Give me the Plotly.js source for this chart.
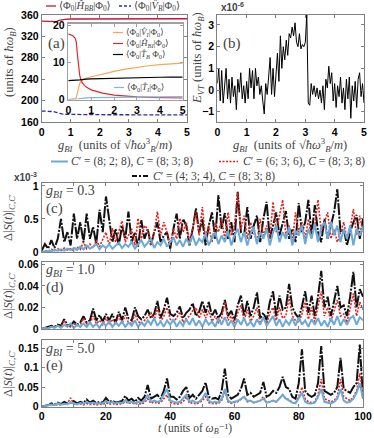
<!DOCTYPE html>
<html><head><meta charset="utf-8">
<script src="https://cdn.plot.ly/plotly-3.0.1.min.js"></script>
<style>html,body{margin:0;padding:0;background:#fff;}#chart{width:374px;height:438px;}</style>
</head><body><div id="chart"></div>
<script>
// ---------- panel (a) main ----------
const gA   = [0,0.1,0.2,0.3,0.4,0.5,0.6,0.7,0.8,1,1.5,2,3,4,5];
const hBB  = [348.5,348.3,348,347.5,346.5,347.5,350,351.5,352,352.5,352.7,352.8,352.9,353,353];
const vB   = [180.5,180.5,180.3,180,179.5,178,176,175,174.5,174,173.8,173.6,173.5,173.4,173.3];
// ---------- panel (a) inset ----------
const gIn  = [0,0.1,0.2,0.3,0.35,0.4,0.45,0.5,0.55,0.6,0.7,0.8,1,1.25,1.5,2,2.5,3,3.5,4,4.5,5];
const hBI  = [17.7,17.5,17.2,16.5,15.5,12,8.5,6.5,5.3,4.6,3.8,3.3,2.6,2.1,1.7,1.2,0.9,0.7,0.6,0.5,0.45,0.4];
const vI   = [0,0,0.05,0.2,0.6,2,3.5,4.3,4.8,5.1,5.5,5.8,6.1,6.6,7,7.6,8.2,8.7,9.1,9.4,9.6,9.8];
const tB   = [5.1,5.1,5.1,5.15,5.2,5.2,5.25,5.3,5.35,5.4,5.45,5.5,5.55,5.6,5.65,5.8,5.85,5.9,5.95,6.0,6.02,6.05];
const tI   = [0,0,0,0.02,0.05,0.1,0.18,0.25,0.3,0.35,0.4,0.45,0.5,0.53,0.55,0.6,0.65,0.7,0.72,0.75,0.78,0.8];
// ---------- panel (b) ----------
const eVT = [0.3,1.0,-0.5,0.9,-0.6,0.3,1.0,-0.4,0.5,-0.6,0.6,-0.3,0.2,-0.9,0.5,-0.1,0.8,-0.4,0.2,-0.6,
             0.4,-0.4,1.0,0.1,0.9,-0.4,1.0,0.2,0.6,-0.2,0.2,-0.5,-1.1,0.3,-0.2,0.6,1.5,-0.2,1.0,-0.3,
             0.5,1.7,0.4,2.5,1.0,2.0,1.4,2.3,1.6,2.6,2.4,2.9,2.5,3.1,2.2,2.0,2.6,1.9,2.1,2.0,
             2.2,3.5,-0.6,-0.7,0.3,-0.2,0.2,-0.3,0.1,-0.4,0.0,-0.6,0.2,-0.9,0.5,0.1,1.1,0.3,0.8,-0.5,
             0.3,-0.8,0.2,-0.3,0.6,-0.6,0.1,-0.9,0.5,-0.4,0.6,-1.3,0.2,-0.5,0.4,-0.8,0.5,0.8,-0.3,0.3,-0.6];
const gB = eVT.map((_, i) => +(i * 0.05).toFixed(2));
// ---------- panels (c)-(e): time grid 0..100 ----------
const cBlack = [0.02,0.12,0.05,0.18,0.06,0.2,0.5,0.15,0.3,0.1,0.58,0.2,0.45,0.15,0.58,0.2,0.38,0.12,0.64,0.3,
  0.84,0.52,0.15,0.35,0.1,0.4,0.2,0.61,0.15,0.3,0.08,0.48,0.2,0.35,0.1,0.3,0.45,0.15,0.25,0.3,
  0.05,0.35,0.58,0.2,0.5,0.4,0.1,0.35,0.66,0.3,0.5,0.1,0.4,0.6,0.2,0.86,0.35,0.59,0.2,0.45,
  0.15,0.91,0.3,0.25,0.68,0.2,0.4,0.55,0.15,0.5,0.76,0.2,0.4,0.6,0.25,0.45,0.62,0.2,0.35,0.15,
  0.74,0.3,0.45,0.79,0.25,0.71,0.3,0.15,0.5,0.2,0.4,0.6,0.95,0.3,0.35,0.1,0.3,0.45,0.56,0.2,0.5];
const cRed = [0,0.02,0.01,0.04,0.02,0.05,0.02,0.06,0.03,0.05,0.02,0.08,0.04,0.15,0.05,0.12,0.06,0.18,0.08,0.2,
  0.3,0.1,0.36,0.15,0.3,0.47,0.15,0.25,0.35,0.1,0.51,0.2,0.4,0.35,0.1,0.3,0.61,0.25,0.45,0.3,
  0.1,0.35,0.2,0.51,0.3,0.45,0.15,0.35,0.6,0.25,0.68,0.2,0.4,0.15,0.45,0.3,0.5,0.2,0.6,0.25,
  0.4,0.9,0.35,0.55,0.2,0.45,0.3,0.15,0.5,0.25,0.4,0.2,0.76,0.3,0.55,0.79,0.25,0.4,0.15,0.6,
  0.3,0.45,0.2,0.5,0.25,0.4,0.79,0.3,0.45,0.6,0.2,0.35,0.15,0.3,0.45,0.2,0.35,0.65,0.25,0.55,0.3];
const cBlue = [0,0.01,0.02,0.01,0.03,0.02,0.04,0.02,0.05,0.03,0.06,0.03,0.08,0.04,0.1,0.05,0.08,0.12,0.04,0.1,
  0.06,0.12,0.05,0.1,0.14,0.06,0.12,0.08,0.15,0.05,0.12,0.18,0.08,0.14,0.2,0.06,0.15,0.1,0.2,0.08,
  0.16,0.22,0.1,0.18,0.08,0.2,0.12,0.25,0.1,0.2,0.15,0.28,0.1,0.22,0.3,0.12,0.25,0.15,0.32,0.1,
  0.25,0.35,0.15,0.3,0.1,0.28,0.38,0.12,0.3,0.2,0.35,0.1,0.3,0.4,0.15,0.3,0.2,0.38,0.1,0.32,
  0.25,0.4,0.12,0.35,0.2,0.42,0.15,0.38,0.45,0.2,0.46,0.25,0.4,0.15,0.35,0.2,0.4,0.1,0.35,0.25,0.38];
const dBlack = [0,0.001,0.002,0.003,0.002,0.004,0.003,0.009,0.004,0.003,0.007,0.004,0.006,0.012,0.006,0.008,0.019,0.008,0.013,0.007,
  0.014,0.008,0.014,0.006,0.016,0.008,0.02,0.01,0.008,0.02,0.012,0.009,0.012,0.018,0.01,0.014,0.026,0.01,0.018,0.029,
  0.014,0.012,0.015,0.021,0.01,0.015,0.018,0.024,0.012,0.016,0.026,0.015,0.025,0.012,0.018,0.01,0.015,0.027,0.012,0.017,
  0.008,0.022,0.031,0.012,0.026,0.012,0.02,0.034,0.01,0.015,0.008,0.025,0.035,0.012,0.031,0.018,0.02,0.042,0.02,0.014,
  0.01,0.021,0.035,0.015,0.031,0.012,0.03,0.054,0.02,0.03,0.012,0.025,0.04,0.02,0.022,0.012,0.03,0.053,0.02,0.037,0.03];
const dRed = [0,0.001,0.001,0.002,0.002,0.003,0.002,0.008,0.003,0.002,0.005,0.003,0.004,0.01,0.004,0.005,0.012,0.005,0.008,0.004,
  0.01,0.005,0.009,0.004,0.012,0.005,0.013,0.006,0.005,0.014,0.007,0.005,0.008,0.012,0.015,0.008,0.02,0.007,0.012,0.02,
  0.009,0.007,0.01,0.016,0.006,0.01,0.012,0.017,0.02,0.01,0.018,0.01,0.017,0.007,0.012,0.006,0.01,0.025,0.008,0.012,
  0.005,0.015,0.022,0.008,0.018,0.007,0.012,0.02,0.006,0.01,0.005,0.015,0.02,0.008,0.02,0.01,0.012,0.03,0.012,0.008,
  0.006,0.014,0.025,0.009,0.02,0.007,0.02,0.035,0.012,0.02,0.007,0.016,0.027,0.012,0.014,0.006,0.02,0.033,0.012,0.025,0.018];
const dBlue = [0,0.001,0.0005,0.002,0.001,0.003,0.001,0.004,0.002,0.005,0.001,0.004,0.002,0.005,0.002,0.006,0.002,0.005,0.001,0.006,
  0.003,0.007,0.002,0.006,0.003,0.007,0.002,0.006,0.003,0.008,0.002,0.006,0.003,0.008,0.004,0.01,0.003,0.007,0.002,0.008,
  0.004,0.009,0.002,0.007,0.003,0.009,0.004,0.01,0.003,0.008,0.002,0.009,0.004,0.007,0.002,0.01,0.004,0.011,0.003,0.008,
  0.002,0.009,0.004,0.01,0.003,0.007,0.002,0.009,0.004,0.011,0.003,0.008,0.012,0.003,0.009,0.002,0.008,0.004,0.01,0.003,
  0.011,0.004,0.008,0.002,0.009,0.004,0.01,0.003,0.008,0.002,0.01,0.004,0.012,0.003,0.009,0.004,0.01,0.012,0.004,0.011,0.008];
const eBlack = [0,0.002,0.003,0.008,0.005,0.01,0.006,0.012,0.008,0.01,0.014,0.008,0.012,0.009,0.018,0.01,0.015,0.009,0.012,0.01,
  0.022,0.012,0.015,0.01,0.012,0.014,0.027,0.015,0.02,0.012,0.022,0.015,0.025,0.055,0.02,0.025,0.03,0.02,0.04,0.072,
  0.025,0.025,0.018,0.025,0.04,0.05,0.022,0.03,0.02,0.03,0.04,0.062,0.025,0.02,0.022,0.018,0.04,0.097,0.03,0.02,
  0.025,0.03,0.045,0.072,0.03,0.035,0.025,0.03,0.035,0.063,0.025,0.03,0.04,0.035,0.05,0.076,0.05,0.045,0.025,0.02,
  0.06,0.147,0.04,0.03,0.025,0.03,0.06,0.155,0.04,0.035,0.03,0.035,0.05,0.125,0.045,0.04,0.035,0.05,0.06,0.159,0.02];
const eRed = [0,0.001,0.002,0.004,0.003,0.005,0.004,0.006,0.008,0.022,0.006,0.005,0.007,0.004,0.008,0.005,0.006,0.004,0.006,0.005,
  0.01,0.006,0.008,0.005,0.006,0.007,0.012,0.008,0.01,0.006,0.008,0.006,0.01,0.02,0.008,0.012,0.008,0.01,0.02,0.03,
  0.01,0.008,0.006,0.008,0.012,0.025,0.008,0.01,0.006,0.01,0.015,0.025,0.01,0.008,0.007,0.008,0.015,0.04,0.012,0.008,
  0.01,0.012,0.018,0.025,0.012,0.015,0.01,0.012,0.015,0.025,0.01,0.012,0.015,0.012,0.02,0.03,0.02,0.018,0.01,0.008,
  0.025,0.05,0.02,0.012,0.01,0.012,0.03,0.07,0.02,0.015,0.012,0.015,0.025,0.07,0.025,0.02,0.015,0.025,0.04,0.085,0.03];
const eBlue = [0,0.001,0.003,0.005,0.004,0.008,0.005,0.007,0.006,0.01,0.008,0.006,0.009,0.007,0.012,0.008,0.01,0.007,0.009,0.008,
  0.014,0.009,0.012,0.008,0.01,0.009,0.016,0.01,0.012,0.008,0.012,0.01,0.015,0.03,0.012,0.015,0.012,0.015,0.03,0.045,
  0.015,0.012,0.01,0.012,0.02,0.03,0.012,0.015,0.01,0.012,0.02,0.035,0.015,0.01,0.012,0.01,0.02,0.045,0.015,0.01,
  0.012,0.014,0.02,0.025,0.015,0.015,0.01,0.012,0.015,0.02,0.01,0.012,0.015,0.012,0.02,0.03,0.02,0.015,0.01,0.008,
  0.02,0.035,0.012,0.008,0.008,0.01,0.025,0.045,0.012,0.01,0.008,0.012,0.02,0.045,0.015,0.01,0.012,0.02,0.035,0.06,0.02];
const tGrid = cBlack.map((_, i) => i);

const gTicks = [0,1,2,3,4,5];
const aTicks = [160,200,240,280,320,360];
const inTicks = [0,10,20];
const bTicks = [-1,0,1,2,3];
const cTicks = [0,0.5,1], cTickText = ['0','0.5','1'];
const dTicks = [0,0.02,0.04,0.06], dTickText = ['0','0.02','0.04','0.06'];
const eTicks = [0,0.05,0.1,0.15], eTickText = ['0','0.05','0.1','0.15'];
const tTicks = [0,20,40,60,80,100];

// ---------- styling ----------
const SERIF = 'Liberation Serif, DejaVu Serif, serif';
const SANS = 'Liberation Sans, Arial, sans-serif';
const W = 374, H = 438;
const PX = x => x / W, PY = y => 1 - y / H;
const FRAME = '#808080';
const C_RED = '#e3201b', C_BLUE = '#6aaad9', C_BLK = '#111111';

function axis(x0, x1, range, extra) {
  return Object.assign({
    domain: [x0, x1], range: range, showline: true, mirror: 'ticks', linecolor: FRAME, linewidth: 1,
    ticks: 'inside', ticklen: 3, tickcolor: FRAME, showgrid: false, zeroline: false,
    tickprefix: '<b>', ticksuffix: '</b>',
    tickfont: {family: SANS, size: 10.5, weight: 700, color: '#000'}, fixedrange: true
  }, extra || {});
}

const traces = [
  {x: gA, y: hBB, xaxis: 'x', yaxis: 'y', mode: 'lines', line: {color: '#c8143c', width: 1.3}},
  {x: gA, y: vB, xaxis: 'x', yaxis: 'y', mode: 'lines', line: {color: '#2b2ba8', width: 1.3, dash: '4px,2px'}},
  {x: gIn, y: vI, xaxis: 'x2', yaxis: 'y2', mode: 'lines', line: {color: '#f7a55a', width: 1.2}},
  {x: gIn, y: hBI, xaxis: 'x2', yaxis: 'y2', mode: 'lines', line: {color: '#e0282e', width: 1.2}},
  {x: gIn, y: tB, xaxis: 'x2', yaxis: 'y2', mode: 'lines', line: {color: '#000', width: 1.2}},
  {x: gIn, y: tI, xaxis: 'x2', yaxis: 'y2', mode: 'lines', line: {color: '#7ab8e0', width: 1.2}},
  {x: gB, y: eVT, xaxis: 'x3', yaxis: 'y3', mode: 'lines', line: {color: '#000', width: 1}},
];
const BL = {color: C_BLK, width: 2, dash: '12px,1.5px,2px,1.5px'};
const RD = {color: C_RED, width: 1.6, dash: '2px,1.5px'};
const BU = {color: C_BLUE, width: 2};
[[cBlack, cRed, cBlue, 'x4', 'y4'], [dBlack, dRed, dBlue, 'x5', 'y5'], [eBlack, eRed, eBlue, 'x6', 'y6']].forEach(p => {
  traces.push({x: tGrid, y: p[0], xaxis: p[3], yaxis: p[4], mode: 'lines', line: BL});
  traces.push({x: tGrid, y: p[1], xaxis: p[3], yaxis: p[4], mode: 'lines', line: RD});
  traces.push({x: tGrid, y: p[2], xaxis: p[3], yaxis: p[4], mode: 'lines', line: BU});
});
traces.forEach(t => { t.showlegend = false; t.hoverinfo = 'skip'; });

const yd = (top, bot) => [PY(bot), PY(top)];
const MINOR = {dtick: 10, ticks: 'inside', ticklen: 3, tickcolor: FRAME, showgrid: false};
const INSET = {linecolor: '#a0a0a0', tickcolor: '#a0a0a0', linewidth: 1.5};
const layout = {
  width: W, height: H, margin: {l: 0, r: 0, t: 0, b: 0}, paper_bgcolor: '#fff', plot_bgcolor: 'rgba(0,0,0,0)',
  showlegend: false,
  xaxis: axis(PX(41.7), PX(187), [0, 5], {anchor: 'y', tickvals: gTicks}),
  yaxis: axis(0, 0, [160, 360], {domain: yd(15, 122), anchor: 'x', tickvals: aTicks}),
  xaxis2: axis(PX(68.3), PX(182.7), [0, 5], Object.assign({anchor: 'y2', tickvals: gTicks}, INSET)),
  yaxis2: axis(0, 0, [0, 20.5], Object.assign({domain: yd(23.5, 99.5), anchor: 'x2', tickvals: inTicks}, INSET)),
  xaxis3: axis(PX(217.3), PX(364), [0, 5], {anchor: 'y3', tickvals: gTicks}),
  yaxis3: axis(0, 0, [-1.47, 3.46], {domain: yd(15, 122), anchor: 'x3', tickvals: bTicks}),
  xaxis4: axis(PX(41.7), PX(363), [0, 100], {anchor: 'y4', tickvals: tTicks, showticklabels: false, minor: MINOR}),
  yaxis4: axis(0, 0, [0, 1.04], {domain: yd(183.3, 252), anchor: 'x4', tickvals: cTicks, ticktext: cTickText}),
  xaxis5: axis(PX(41.7), PX(363), [0, 100], {anchor: 'y5', tickvals: tTicks, showticklabels: false, minor: MINOR}),
  yaxis5: axis(0, 0, [0, 0.0625], {domain: yd(261.7, 329), anchor: 'x5', tickvals: dTicks, ticktext: dTickText}),
  xaxis6: axis(PX(41.7), PX(363), [0, 100], {anchor: 'y6', tickvals: tTicks, minor: MINOR}),
  yaxis6: axis(0, 0, [0, 0.172], {domain: yd(339.5, 406.5), anchor: 'x6', tickvals: eTicks, ticktext: eTickText}),
  annotations: [], shapes: []
};

function ann(text, x, y, o) {
  layout.annotations.push(Object.assign({
    text: text, x: PX(x), y: PY(y), xref: 'paper', yref: 'paper', showarrow: false,
    xanchor: 'left', yanchor: 'middle', font: {family: SERIF, size: 11, color: '#000'}
  }, o || {}));
}
function seg(x0, x1, y, line) {
  layout.shapes.push({type: 'line', xref: 'paper', yref: 'paper', x0: PX(x0), x1: PX(x1), y0: PY(y), y1: PY(y), line: line});
}
const phi = 'Φ<sub>0</sub>';
const LF = {family: SERIF, size: 10.5};
// top legend (a)
seg(46, 56, 6, {color: '#c8143c', width: 1.3});
ann('⟨' + phi + '|<i>Ĥ</i><sub><i>BB</i></sub>|' + phi + '⟩', 57, 6, {font: LF});
seg(119, 131, 6, {color: '#2b2ba8', width: 1.3, dash: '3px,2px'});
ann('⟨' + phi + '|<i>V̂</i><sub><i>B</i></sub>|' + phi + '⟩', 132, 6, {font: LF});
// inset legend
const IF = {family: SERIF, size: 9};
seg(113, 123, 32.5, {color: '#f7a55a', width: 1.2});
ann('⟨' + phi + '|<i>V̂</i><sub><i>I</i></sub>|' + phi + '⟩', 124, 32.5, {font: IF});
seg(113, 123, 43.5, {color: '#e0282e', width: 1.2});
ann('⟨' + phi + '|<i>Ĥ</i><sub><i>BI</i></sub>|' + phi + '⟩', 124, 43.5, {font: IF});
seg(113, 123, 54.5, {color: '#000', width: 1.2});
ann('⟨' + phi + '|<i>T̂</i><sub><i>B</i></sub> ' + phi + '⟩', 124, 54.5, {font: IF});
seg(114, 124, 87.5, {color: '#7ab8e0', width: 1.2});
ann('⟨' + phi + '|<i>T̂</i><sub><i>I</i></sub>|' + phi + '⟩', 125, 87.5, {font: IF});
// panel labels
ann('(a)', 46, 43, {font: {family: SERIF, size: 15}});
ann('(b)', 221, 43, {font: {family: SERIF, size: 15}});
ann('<b>x10<sup>-6</sup></b>', 219, 7, {font: {family: SANS, size: 10}});
// y titles
ann('(units of <i>ħω</i><sub><i>B</i></sub>)', 10, 62, {textangle: -90, xanchor: 'center', font: {family: SERIF, size: 12.5}});
ann('<i>E</i><sub><i>VT</i></sub> (units of <i>ħω</i><sub><i>B</i></sub>)', 198, 58, {textangle: -90, xanchor: 'center', font: {family: SERIF, size: 12.5}});
// x titles
const gTitle = '<i>g</i><sub><i>BI</i></sub>  (units of √<i>ħω</i><sup>3</sup><sub><i>B</i></sub>/<i>m</i>)';
ann(gTitle, 114.5, 145, {xanchor: 'center', font: {family: SERIF, size: 12.5}});
ann(gTitle, 290, 145, {xanchor: 'center', font: {family: SERIF, size: 12.5}});
// middle legend
seg(51, 68, 161.5, {color: C_BLUE, width: 2});
ann('<i>C</i>′ = (8; 2; 8), <i>C</i> = (8; 3; 8)', 69, 161.5, {font: {family: SERIF, size: 11.5}});
seg(219, 238, 161.5, {color: C_RED, width: 1.6, dash: '2px,1.5px'});
ann('<i>C</i>′ = (6; 3; 6), <i>C</i> = (8; 3; 8)', 241, 161.5, {font: {family: SERIF, size: 11.5}});
seg(132, 150, 176, {color: C_BLK, width: 2, dash: '5px,2px,2px,2px'});
ann('<i>C</i>′ = (4; 3; 4), <i>C</i> = (8; 3; 8)', 151, 176, {font: {family: SERIF, size: 11.5}});
ann('<b>x10<sup>-3</sup></b>', 12, 177, {font: {family: SANS, size: 10}});
// panel c-e texts
const dS = 'Δ|<i>S</i>(<i>t</i>)|<sub><i>C,C</i>′</sub>';
[[0.3, '(c)', 191, 208, 218], [1.0, '(d)', 270, 287, 296], [5.0, '(e)', 349, 365.5, 374]].forEach(p => {
  ann('<i>g</i><sub><i>BI</i></sub> = ' + p[0].toFixed(1), 44, p[2], {font: {family: SERIF, size: 14}});
  ann(p[1], 44, p[3], {font: {family: SERIF, size: 15}});
  ann(dS, 9, p[4], {textangle: -90, xanchor: 'center', font: {family: SERIF, size: 12.5}});
});
ann('<i>t</i> (units of <i>ω</i><sub><i>B</i></sub>⁻¹)', 195, 438, {xanchor: 'center', yanchor: 'bottom', font: {family: SERIF, size: 11.5}});

Plotly.newPlot('chart', traces, layout, {staticPlot: true, displayModeBar: false});
</script></body></html>
